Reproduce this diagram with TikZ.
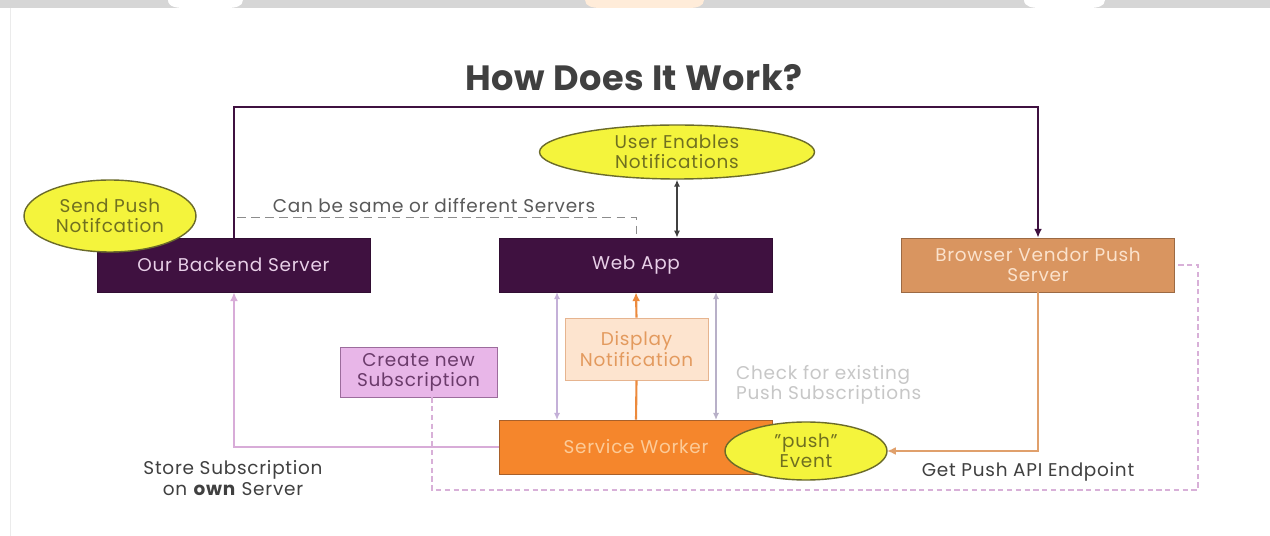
\documentclass[tikz,border=0pt]{standalone}
\usepackage{fontspec}
\setmainfont[LetterSpace=4]{Poppins}
\newfontfamily\titlefont[LetterSpace=1.5]{Poppins}
\usetikzlibrary{shapes.geometric,arrows.meta}

\definecolor{plum}{HTML}{3F1140}
\definecolor{plumtext}{HTML}{E8D0E8}
\definecolor{tanfill}{HTML}{D99560}
\definecolor{tanedge}{HTML}{9C6A44}
\definecolor{tantext}{HTML}{FBE2CC}
\definecolor{swfill}{HTML}{F5862C}
\definecolor{swedge}{HTML}{A8602A}
\definecolor{swtext}{HTML}{FCCB98}
\definecolor{peachfill}{HTML}{FDE4CF}
\definecolor{peachedge}{HTML}{E6B48F}
\definecolor{peachtext}{HTML}{E39A5E}
\definecolor{pinkfill}{HTML}{E8B6E8}
\definecolor{pinkedge}{HTML}{9C6C9C}
\definecolor{pinktext}{HTML}{6B3B6B}
\definecolor{lemon}{HTML}{F4F43C}
\definecolor{lemonedge}{HTML}{6B6B2A}
\definecolor{lemontext}{HTML}{707020}
\definecolor{lilac}{HTML}{D8ACD8}
\definecolor{lavender}{HTML}{C4B0D8}
\definecolor{greylav}{HTML}{B8B0C8}
\definecolor{orangeline}{HTML}{EC8A3C}
\definecolor{tanline}{HTML}{E0A06C}
\definecolor{pinkdash}{HTML}{D8B0D8}
\definecolor{inkgrey}{HTML}{404040}

\tikzset{
  txt/.style={font=\fontsize{10.5}{12}\selectfont},
  server/.style={rectangle, fill=plum, draw=plum!80!black, text=plumtext,
    minimum width=5.46cm, minimum height=1.08cm, inner sep=0pt, txt},
  vendor/.style={server, fill=tanfill, draw=tanedge, text=tantext, align=center,
    font=\fontsize{10.5}{11.5}\selectfont},
  worker/.style={server, fill=swfill, draw=swedge, text=swtext},
  displaybox/.style={rectangle, fill=peachfill, draw=peachedge, text=peachtext, align=center,
    minimum width=2.86cm, minimum height=1.24cm, inner sep=0pt, txt},
  createbox/.style={rectangle, fill=pinkfill, draw=pinkedge, text=pinktext, align=center,
    minimum width=3.14cm, minimum height=1.0cm, inner sep=0pt, font=\fontsize{10.5}{11.5}\selectfont},
  bubble/.style={ellipse, fill=lemon, draw=lemonedge, thick, text=lemontext, align=center,
    inner sep=0pt, font=\fontsize{10.5}{11.5}\selectfont},
  note/.style={text=inkgrey, align=center, txt},
  tip/.style={-{Latex[length=5pt,width=4.5pt]}},
  tips/.style={{Latex[length=4pt,width=3.5pt]}-{Latex[length=4pt,width=3.5pt]}},
}

\begin{document}
\begin{tikzpicture}[x=0.02cm, y=-0.02cm]
  % canvas
  \useasboundingbox (0,0) rectangle (1270,536);
  \fill[white] (0,0) rectangle (1270,536);
  % grey strip along the top edge
  \fill[black!16] (0,0) rectangle (1270,8);
  \fill[white] (168,0) to[out=-90,in=180] (185,8) -- (228,8) to[out=0,in=-90] (243,0) -- cycle;
  \fill[orange!15] (585,0) to[out=-90,in=180] (600,8) -- (690,8) to[out=0,in=-90] (704,0) -- cycle;
  \fill[white] (1024,0) to[out=-90,in=180] (1040,8) -- (1090,8) to[out=0,in=-90] (1105,0) -- cycle;
  \draw[black!8] (10,8) -- (10,536);

  % title
  \node[text=inkgrey, font=\titlefont\fontsize{20}{22}\selectfont\bfseries] (title) at (634,78) {How Does It Work?};

  % main boxes
  \node[server] (backend) at (233.5,265) {Our Backend Server};
  \node[server] (webapp) at (636,265) {Web App};
  \node[vendor] (vendor) at (1038,265) {Browser Vendor Push\\Server};
  \node[worker] (worker) at (636,447) {Service Worker};
  \node[displaybox] (display) at (636.5,349) {Display\\Notification};
  \node[createbox] (create) at (418.5,372) {Create new\\Subscription};

  % route points
  \coordinate (topL) at (234,107);
  \coordinate (topR) at (1038,107);
  \coordinate (dashL) at (237,217);
  \coordinate (dashR) at (636,217);
  \coordinate (storeC) at (234,447);
  \coordinate (vendC) at (1038,451);
  \coordinate (endA) at (432,490);
  \coordinate (endB) at (1198,490);
  \coordinate (endC) at (1198,265);

  % backend -> vendor (outer route)
  \draw[plum, line width=1.4pt, tip] (backend.north -| topL) -- (topL) -- (topR) -- (vendor.north);

  % same or different servers
  \draw[black!45, dashed, dash pattern=on 5pt off 3pt] (dashL) -- (dashR) -- (dashR |- webapp.north);
  \node[text=black!65, txt] (samelabel) at (434,206) {Can be same or different Servers};

  % store subscription on own server
  \draw[lilac, line width=0.9pt, tip] (worker.west |- storeC) -- (storeC) -- (backend.south -| storeC);

  % check subscriptions, both directions
  \draw[lavender, line width=0.9pt, tips] (557,292) -- (557,420);
  \draw[greylav, line width=0.9pt, tips] (716,292) -- (716,420);

  % display notification
  \draw[orangeline, line width=1.2pt] (worker.north) -- (display.south);
  \draw[orangeline, line width=1.2pt, tip] (display.north) -- (webapp.south);

  % vendor -> push event
  \draw[tanline, line width=1.2pt, tip] (vendor.south) -- (vendC) -- (887,451);

  % subscription endpoint request
  \draw[pinkdash, line width=0.9pt, dashed, dash pattern=on 3pt off 2pt]
    (create.south -| endA) -- (endA) -- (endB) -- (endC) -- (vendor.east);

  % labels
  \node[text=black!22, align=left, anchor=west, font=\fontsize{10.5}{11.5}\selectfont] (checklabel)
    at (730,384.5) {Check for existing\\Push Subscriptions};
  \node[note] (storelabel) at (233,478.5) {Store Subscription\\on \textbf{own} Server};
  \node[note] (endpointlabel) at (1028,472) {Get Push API Endpoint};

  % user actions and events
  \node[bubble, minimum width=5.5cm, minimum height=1.08cm] (enable) at (677,152) {User Enables\\Notifications};
  \node[bubble, minimum width=3.44cm, minimum height=1.44cm] (send) at (110,216) {Send Push\\Notifcation};
  \node[bubble, minimum width=3.24cm, minimum height=1.16cm] (pushev) at (806,451) {"push"\\Event};

  \draw[inkgrey, line width=1.1pt, tips] (enable.south) -- (webapp.north -| enable.south);
\end{tikzpicture}
\end{document}
